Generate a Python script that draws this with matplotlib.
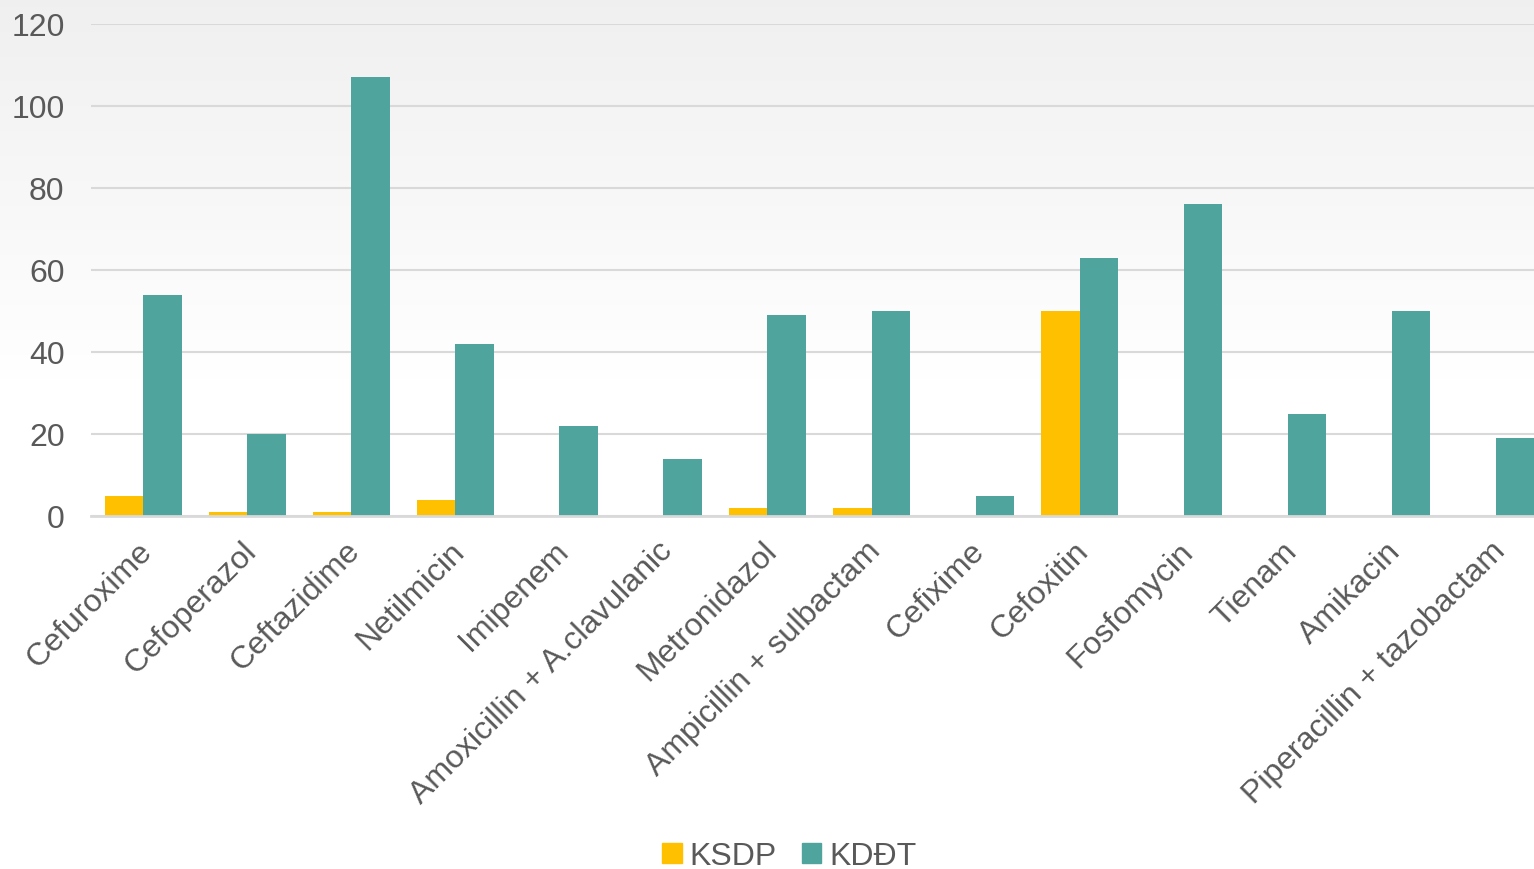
import numpy as np
import matplotlib.pyplot as plt
import matplotlib.transforms as mtransforms
from matplotlib.patches import Patch

plt.rcParams['font.family'] = ['Liberation Sans', 'DejaVu Sans']

drugs = ["Cefuroxime", "Cefoperazol", "Ceftazidime", "Netilmicin", "Imipenem",
         "Amoxicillin + A.clavulanic", "Metronidazol", "Ampicillin + sulbactam",
         "Cefixime", "Cefoxitin", "Fosfomycin", "Tienam", "Amikacin",
         "Piperacillin + tazobactam"]
ksdp = [5, 1, 1, 4, 0, 0, 2, 2, 0, 50, 0, 0, 0, 0]
kddt = [54, 20, 107, 42, 22, 14, 49, 50, 5, 63, 76, 25, 50, 19]
yticks = [0, 20, 40, 60, 80, 100, 120]

yellow = "#FFC000"
teal = "#4FA59E"
text_col = "#595959"
grid_col = "#D9D9D9"

W, H = 1534, 870
fig = plt.figure(figsize=(W / 100, H / 100), dpi=100)

# soft grey-to-white background wash
bg = fig.add_axes([0, 0, 1, 1], zorder=-10)
grad = np.ones((H, 1))
ys = np.arange(H)
grad[:, 0] = 0.94 + 0.06 * np.clip(ys / 380.0, 0, 1)
bg.imshow(np.dstack([grad, grad, grad]), aspect="auto", extent=[0, 1, 0, 1],
          origin="upper")
bg.axis("off")

left, right = 91, 1548
bottom, top = 517, 25
ax = fig.add_axes([left / W, 1 - bottom / H, (right - left) / W, (bottom - top) / H])
ax.patch.set_alpha(0)

x = np.arange(len(drugs))
w = 0.37
ax.bar(x - w / 2, ksdp, w, color=yellow, label="KSDP", zorder=3)
ax.bar(x + w / 2, kddt, w, color=teal, label="KDĐT", zorder=3)

ax.set_xlim(-0.5, len(drugs) - 0.5)
ax.set_ylim(0, 120)
ax.set_yticks(yticks)
ax.yaxis.grid(True, color=grid_col, linewidth=1.5, zorder=0)
ax.set_axisbelow(True)
for s in ["top", "right", "left"]:
    ax.spines[s].set_visible(False)
ax.spines["bottom"].set_color(grid_col)
ax.spines["bottom"].set_linewidth(2)
ax.spines["bottom"].set_zorder(4)

ax.tick_params(axis="y", length=0, pad=19, labelsize=23, labelcolor=text_col)
ax.tick_params(axis="x", length=0, pad=14, labelsize=23, labelcolor=text_col)
ax.set_xticks(x)
ax.set_xticklabels(drugs, rotation=45, ha="right", rotation_mode="anchor")
shift = mtransforms.ScaledTranslation(-6 / 100, 0, fig.dpi_scale_trans)
for lbl in ax.get_xticklabels():
    lbl.set_transform(lbl.get_transform() + shift)

handles = [Patch(color=yellow, label="KSDP"), Patch(color=teal, label="KDĐT")]
fig.legend(handles=handles, loc="center", bbox_to_anchor=(0.5147, 1 - 857 / H),
           ncol=2, frameon=False, fontsize=23, labelcolor=text_col,
           handlelength=0.6, handleheight=0.6, handletextpad=0.25,
           columnspacing=0.8)

fig.savefig("out.png", dpi=100)
